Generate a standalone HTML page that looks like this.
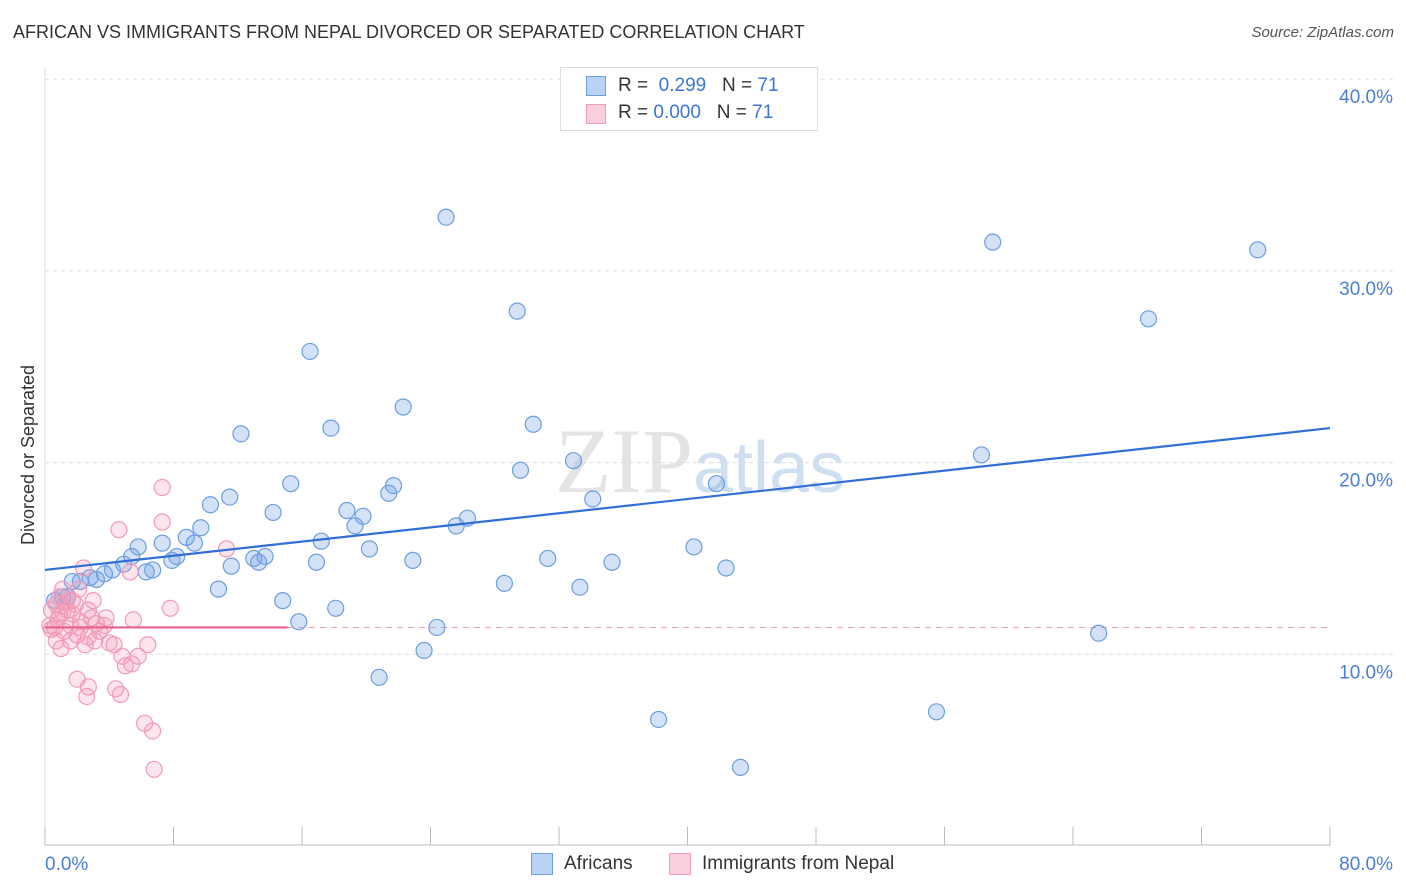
<!DOCTYPE html>
<html><head><meta charset="utf-8"><style>
body{margin:0;background:#fff;font-family:"Liberation Sans",sans-serif;}
#wrap{position:relative;width:1406px;height:892px;overflow:hidden;}
.t{position:absolute;white-space:nowrap;}
</style></head><body>
<div id="wrap">
<div class="t" style="left:13px;top:22px;font-size:18px;color:#333;">AFRICAN VS IMMIGRANTS FROM NEPAL DIVORCED OR SEPARATED CORRELATION CHART</div>
<div class="t" style="right:12px;top:24px;font-size:15px;color:#555;font-style:italic;">Source: ZipAtlas.com</div>
<svg id="chart" width="1406" height="892" style="position:absolute;left:0;top:0;"></svg>
</div>
<script>
const xTicksLabels=["0.0%","80.0%"];
const yTickValues=[10,20,30,40];
const africanX=[24.97,59.0,75.5,29.4,68.7,16.5,22.3,12.2,17.8,30.4,58.3,29.6,32.9,15.3,21.7,21.4,11.5,34.1,10.3,41.8,14.2,18.8,19.8,19.3,26.3,25.6,9.7,17.2,8.8,9.3,7.3,5.8,5.4,8.2,7.9,13.7,13.0,13.3,20.2,16.9,22.9,31.3,35.3,40.4,42.4,11.6,6.7,6.3,4.9,4.2,3.7,3.2,2.2,1.7,2.8,28.6,33.3,10.8,14.8,18.1,15.8,24.4,65.6,23.6,20.8,38.2,55.5,43.3,1.1,0.6,1.4];
const africanY=[32.8,31.5,31.1,27.9,27.5,25.8,22.9,21.5,21.8,22.0,20.4,19.6,20.1,18.9,18.8,18.4,18.2,18.1,17.8,18.9,17.4,17.5,17.2,16.7,17.1,16.7,16.6,15.9,16.1,15.8,15.8,15.6,15.1,15.1,14.9,15.1,15.0,14.8,15.5,14.8,14.9,15.0,14.8,15.6,14.5,14.6,14.4,14.3,14.7,14.4,14.2,13.9,13.8,13.8,14.0,13.7,13.5,13.4,12.8,12.4,11.7,11.4,11.1,10.2,8.8,6.6,7.0,4.1,13.0,12.8,13.0];
const nepalX=[7.3,7.3,4.6,11.3,5.3,2.4,1.1,3.0,1.3,2.7,3.8,5.5,7.8,0.4,0.8,1.7,2.2,3.2,0.6,1.2,2.0,2.7,3.4,4.0,4.3,1.6,1.0,6.4,4.8,5.8,5.0,5.4,2.0,2.7,4.4,2.6,4.7,6.2,6.7,6.8,0.3,0.7,0.9,1.4,1.9,2.2,2.9,3.7,1.6,2.5,3.1,0.4,0.7,1.1,1.7,0.9,2.1];
const nepalY=[18.7,16.9,16.5,15.5,14.3,14.5,13.4,12.8,12.7,12.3,11.9,11.8,12.4,12.3,11.8,12.1,11.7,11.6,11.4,11.2,11.0,10.9,11.2,10.6,10.5,10.7,10.3,10.5,9.9,9.9,9.4,9.5,8.7,8.3,8.2,7.8,7.9,6.4,6.0,4.0,11.5,12.6,12.1,12.3,12.6,11.4,11.9,11.5,11.5,10.5,10.7,11.3,10.7,12.2,12.8,13.0,13.4];
const africanTrend=[14.4,21.8]; // at x=0 and x=80
const nepalTrend=[11.4,11.4,15.1]; // y start, y end, x end
const NS="http://www.w3.org/2000/svg";
const svg=document.getElementById('chart');
const X0=45,X1=1330,Y0=846,PPY=19.17;
const sx=v=>X0+v/80*(X1-X0);
const sy=v=>Y0-v*PPY;
function mk(tag,attrs){const e=document.createElementNS(NS,tag);for(const k in attrs)e.setAttribute(k,attrs[k]);svg.appendChild(e);return e;}
// watermark
let wm=mk('text',{x:555,y:492,'font-size':92,'font-family':'Liberation Serif, serif',fill:'#e4e4e4'});


wm.innerHTML='ZIP<tspan fill="#cfdff2" font-family="Liberation Sans, sans-serif" font-size="72">atlas</tspan>';
// grid
yTickValues.forEach(v=>{
 const g=mk('line',{x1:X0,x2:1393,y1:sy(v),y2:sy(v),stroke:'#ddd','stroke-dasharray':'4,4'});
 
 
 const t=mk('text',{x:1393,y:sy(v)+24,'text-anchor':'end','font-size':19,fill:'#4a7fd6'});
 
 
 t.textContent=v.toFixed(1)+'%';
});
// axes
let ax=mk('line',{x1:X0,x2:X1,y1:845,y2:845,stroke:'#bbb'});


let ay=mk('line',{x1:X0,x2:X0,y1:68,y2:845,stroke:'#ddd'});


for(let i=0;i<=10;i++){const tk=mk('line',{x1:sx(i*8),x2:sx(i*8),y1:827,y2:845,stroke:'#bbb'});
 
 }
const xl0=mk('text',{x:45,y:870,'font-size':19,fill:'#4a7fd6'});


xl0.textContent=xTicksLabels[0];
const xl1=mk('text',{x:1393,y:870,'font-size':19,fill:'#4a7fd6','text-anchor':'end'});


xl1.textContent=xTicksLabels[1];
const yt=mk('text',{x:0,y:0,'font-size':18,fill:'#333','text-anchor':'middle',transform:'translate(34,455) rotate(-90)'});


yt.textContent='Divorced or Separated';
// mean dashed line
const md=mk('line',{x1:X0,x2:X1,y1:sy(nepalTrend[0]),y2:sy(nepalTrend[0]),stroke:'#e8a0b8','stroke-dasharray':'6,5'});


// points
africanX.forEach((v,i)=>{const c=mk('circle',{cx:sx(v),cy:sy(africanY[i]),r:8,fill:'rgba(110,160,230,0.3)',stroke:'#6d9de2','stroke-width':1.2});
 
 });
nepalX.forEach((v,i)=>{const c=mk('circle',{cx:sx(v),cy:sy(nepalY[i]),r:8,fill:'rgba(245,150,180,0.25)',stroke:'#f29ab8','stroke-width':1.2});
 
 });
// trend lines
const tb=mk('line',{x1:sx(0),y1:sy(africanTrend[0]),x2:sx(80),y2:sy(africanTrend[1]),stroke:'#2f6fd6','stroke-width':2.2});


const tp=mk('line',{x1:sx(0),y1:sy(nepalTrend[0]),x2:sx(nepalTrend[2]),y2:sy(nepalTrend[1]),stroke:'#e8608f','stroke-width':2.2});


</script>
<div class="t" style="left:560px;top:67px;width:256px;height:62px;border:1px solid #ddd;background:#fff;">
 <div class="t" style="left:25px;top:8px;width:18px;height:18px;background:#b9d3f5;border:1px solid #6d9de2;"></div>
 <div class="t" style="left:57px;top:7px;font-size:19px;color:#333;">R = &nbsp;<span style="color:#3c75d6">0.299</span> &nbsp;&nbsp;N = <span style="color:#3c75d6">71</span></div>
 <div class="t" style="left:25px;top:36px;width:18px;height:18px;background:#fbd0de;border:1px solid #f29ab8;"></div>
 <div class="t" style="left:57px;top:34px;font-size:19px;color:#333;">R = <span style="color:#3c75d6">0.000</span> &nbsp;&nbsp;N = <span style="color:#3c75d6">71</span></div>
</div>
<div class="t" style="left:531px;top:853px;width:20px;height:20px;background:#b9d3f5;border:1px solid #6d9de2;"></div>
<div class="t" style="left:564px;top:853px;font-size:19px;color:#333;">Africans</div>
<div class="t" style="left:669px;top:853px;width:20px;height:20px;background:#fbd0de;border:1px solid #f29ab8;"></div>
<div class="t" style="left:702px;top:853px;font-size:19px;color:#333;">Immigrants from Nepal</div>
</body></html>
